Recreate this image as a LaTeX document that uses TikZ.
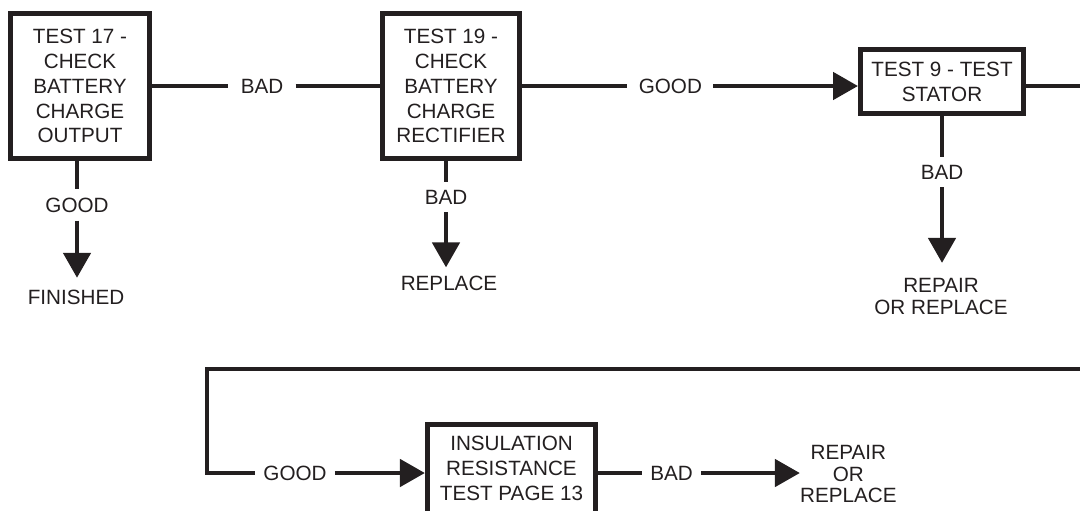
\documentclass[tikz,border=0pt]{standalone}
\usepackage{fontspec}
\setmainfont{Liberation Sans}
\usetikzlibrary{arrows.meta, positioning, calc}
\definecolor{ink}{RGB}{35,31,32}

\begin{document}
\begin{tikzpicture}
    % Define styles
    \tikzstyle{test} = [rectangle, draw=ink, line width=3.4pt, fill=white, text=ink, align=center, inner sep=0pt, font=\fontsize{14.7}{17.7}\selectfont]
    \tikzstyle{result} = [align=center, text=ink, inner sep=0.2cm, font=\fontsize{14.7}{15}\selectfont]
    \tikzstyle{flow} = [draw=ink, line width=3.4pt]
    \tikzstyle{arrow} = [flow, -{Triangle[length=0.625cm, width=0.675cm]}]

    % Page
    \useasboundingbox (0,0) rectangle (27,-12.75);
    \clip (0,0) rectangle (27,-12.75);

    % Test boxes
    \node[test, minimum width=3.48cm, minimum height=3.61cm] (t17) at (2.0,-2.15) {TEST 17 -\\CHECK\\BATTERY\\CHARGE\\OUTPUT};
    \node[test, minimum width=3.43cm, minimum height=3.61cm] (t19) at (11.275,-2.15) {TEST 19 -\\CHECK\\BATTERY\\CHARGE\\RECTIFIER};
    \node[test, minimum width=4.08cm, minimum height=1.61cm] (t9) at (23.55,-2.0375) {TEST 9 - TEST\\STATOR};
    \node[test, minimum width=4.21cm, minimum height=2.5cm, text depth=0.32cm] (ins) at (12.7875,-11.86) {INSULATION\\RESISTANCE\\TEST PAGE 13};

    % Results
    \node[result, inner xsep=0.3cm] (t17bad) at (6.55,-2.15) {BAD};
    \node[result] (t17good) at (1.925,-5.125) {GOOD};
    \node[result, inner ysep=0.29cm] (finished) at (1.9,-7.425) {FINISHED};
    \node[result, inner xsep=0.28cm] (t19good) at (16.76,-2.15) {GOOD};
    \node[result] (t19bad) at (11.15,-4.925) {BAD};
    \node[result] (replace) at (11.225,-7.075) {REPLACE};
    \node[result] (t9bad) at (23.55,-4.3) {BAD};
    \node[result, inner ysep=0.39cm] (repair) at (23.525,-7.4125) {REPAIR\\OR REPLACE};
    \node[result] (insgood) at (7.375,-11.825) {GOOD};
    \node[result] (insbad) at (16.79,-11.825) {BAD};
    \node[result, inner xsep=0pt] (repair2) at (21.21,-11.85) {REPAIR\\OR\\REPLACE};

    % Turn points of the return line
    \coordinate (rc) at (27.6,-9.225);
    \coordinate (lc) at (5.175,-9.225);

    % Test 17
    \draw[flow] (t17) -- (t17bad);
    \draw[flow] (t17bad) -- (t19);
    \draw[flow] (t17.south -| t17good) -- (t17good);
    \draw[arrow] (t17good) -- (t17good |- finished.north);

    % Test 19
    \draw[flow] (t19) -- (t19good);
    \draw[arrow] (t19good) -- (t19good -| t9.west);
    \draw[flow] (t19.south -| t19bad) -- (t19bad);
    \draw[arrow] (t19bad) -- (t19bad |- replace.north);

    % Test 9
    \draw[flow] (t9) -- (t9bad);
    \draw[arrow] (t9bad) -- (t9bad |- repair.north);
    \draw[flow] (t9.east |- t19good) -| (rc) -- (lc) |- (insgood);

    % Insulation test
    \draw[arrow] (insgood) -- (insgood -| ins.west);
    \draw[flow] (ins.east |- insbad) -- (insbad);
    \draw[arrow] (insbad) -- (insbad -| repair2.west);
\end{tikzpicture}
\end{document}
